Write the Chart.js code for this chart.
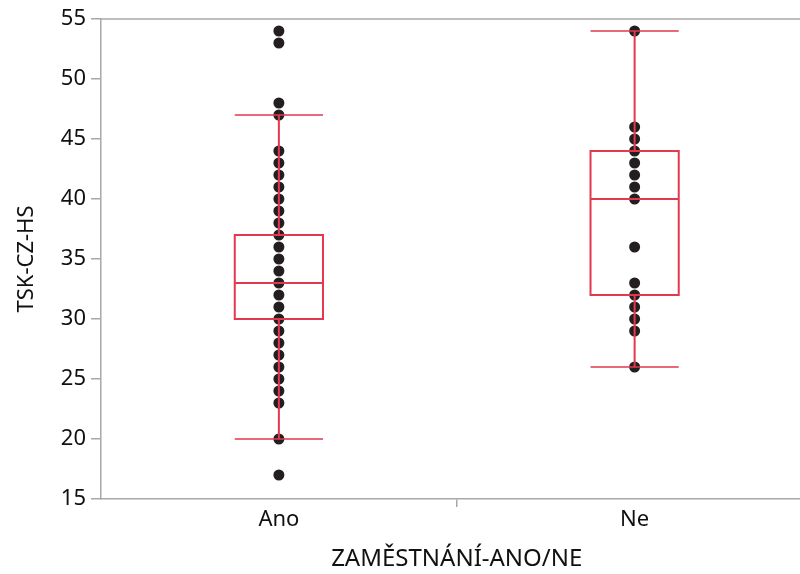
<!DOCTYPE html>
<html>
<head>
<meta charset="utf-8">
<script src="https://cdn.jsdelivr.net/npm/chart.js@4"></script>
<style>
html,body{margin:0;padding:0;background:#fff;overflow:hidden;}
#wrap{width:800px;height:574px;overflow:hidden;position:relative;}
canvas{display:block;}
</style>
</head>
<body>
<div id="wrap"><canvas id="c" width="818" height="574" style="width:818px;height:574px"></canvas></div>
<script>
const categories = ['Ano', 'Ne'];
const anoValues = [54,53,48,47,44,43,42,41,40,39,38,37,36,35,34,33,32,31,30,29,28,27,26,25,24,23,20,17];
const neValues = [54,46,45,44,43,42,41,40,36,33,32,31,30,29,26];
const q1 = [30, 32];
const median = [33, 40];
const q3 = [37, 44];
const whiskerLow = [20, 26];
const whiskerHigh = [47, 54];
const yTicks = [15,20,25,30,35,40,45,50,55];

const pointData = [];
anoValues.forEach(v => pointData.push({x: categories[0], y: v}));
neValues.forEach(v => pointData.push({x: categories[1], y: v}));

const AXIS = '#a8a8a8';
const RED = '#e2394f';
const FAM = '"Noto Sans", "Open Sans", sans-serif';
const TICKFONT = {family: FAM, size: 22};
const XTITLEFONT = {family: FAM, size: 24};
const YTITLEFONT = {family: FAM, size: 22};

const boxPlugin = {
  id: 'boxes',
  afterDatasetsDraw(chart) {
    const ctx = chart.ctx;
    const xs = chart.scales.x, ys = chart.scales.y;
    const catW = xs.getPixelForValue(1) - xs.getPixelForValue(0);
    const half = catW * 0.124;
    ctx.save();
    ctx.strokeStyle = RED;
    categories.forEach((c, i) => {
      const cx = xs.getPixelForValue(i);
      const yq1 = ys.getPixelForValue(q1[i]);
      const yq3 = ys.getPixelForValue(q3[i]);
      const ym = ys.getPixelForValue(median[i]);
      const ylo = ys.getPixelForValue(whiskerLow[i]);
      const yhi = ys.getPixelForValue(whiskerHigh[i]);
      ctx.lineWidth = 2;
      ctx.strokeRect(cx - half, yq3, 2 * half, yq1 - yq3);
      ctx.beginPath();
      ctx.moveTo(cx - half, ym); ctx.lineTo(cx + half, ym);
      ctx.moveTo(cx, yq3); ctx.lineTo(cx, yhi);
      ctx.moveTo(cx, yq1); ctx.lineTo(cx, ylo);
      ctx.stroke();
      ctx.lineWidth = 1.6;
      ctx.beginPath();
      ctx.moveTo(cx - half, yhi); ctx.lineTo(cx + half, yhi);
      ctx.moveTo(cx - half, ylo); ctx.lineTo(cx + half, ylo);
      ctx.stroke();
    });
    const a = chart.chartArea;
    ctx.strokeStyle = AXIS;
    ctx.lineWidth = 1.5;
    ctx.beginPath();
    ctx.moveTo(a.left, a.top); ctx.lineTo(a.right, a.top);
    ctx.stroke();
    ctx.restore();
  }
};

new Chart(document.getElementById('c'), {
  type: 'line',
  data: {
    labels: categories,
    datasets: [{
      data: pointData,
      showLine: false,
      pointRadius: 5.5,
      pointHoverRadius: 5.5,
      pointBackgroundColor: '#231f20',
      pointBorderColor: '#231f20',
      pointBorderWidth: 0
    }]
  },
  options: {
    responsive: false,
    animation: false,
    devicePixelRatio: 1,
    layout: {padding: {left: 0, top: 19, right: 1, bottom: 0}},
    plugins: {legend: {display: false}, tooltip: {enabled: false}},
    scales: {
      x: {
        type: 'category',
        offset: true,
        afterFit(s) { s.height = 75; },
        grid: {
          offset: true, drawOnChartArea: false, tickLength: 8, lineWidth: 1.5,
          color: (c) => (c.index === 0 && c.type === 'tick') ? 'rgba(0,0,0,0)' : AXIS
        },
        border: {color: AXIS, width: 1.5},
        ticks: {color: '#111', font: TICKFONT, padding: 0},
        title: {display: true, text: 'ZAMĚSTNÁNÍ-ANO/NE', color: '#111', font: XTITLEFONT, padding: {top: 0, bottom: 0}}
      },
      y: {
        min: 15, max: 55,
        afterFit(s) { s.width = 101; },
        afterBuildTicks(s) { s.ticks = yTicks.map(v => ({value: v})); },
        grid: {drawOnChartArea: false, tickLength: 10, color: AXIS, lineWidth: 1.5},
        border: {color: AXIS, width: 1.5},
        ticks: {color: '#111', font: TICKFONT, padding: 5},
        title: {display: true, text: 'TSK-CZ-HS', color: '#111', font: YTITLEFONT, padding: {top: 14, bottom: 0}}
      }
    }
  },
  plugins: [boxPlugin]
});
</script>
</body>
</html>
